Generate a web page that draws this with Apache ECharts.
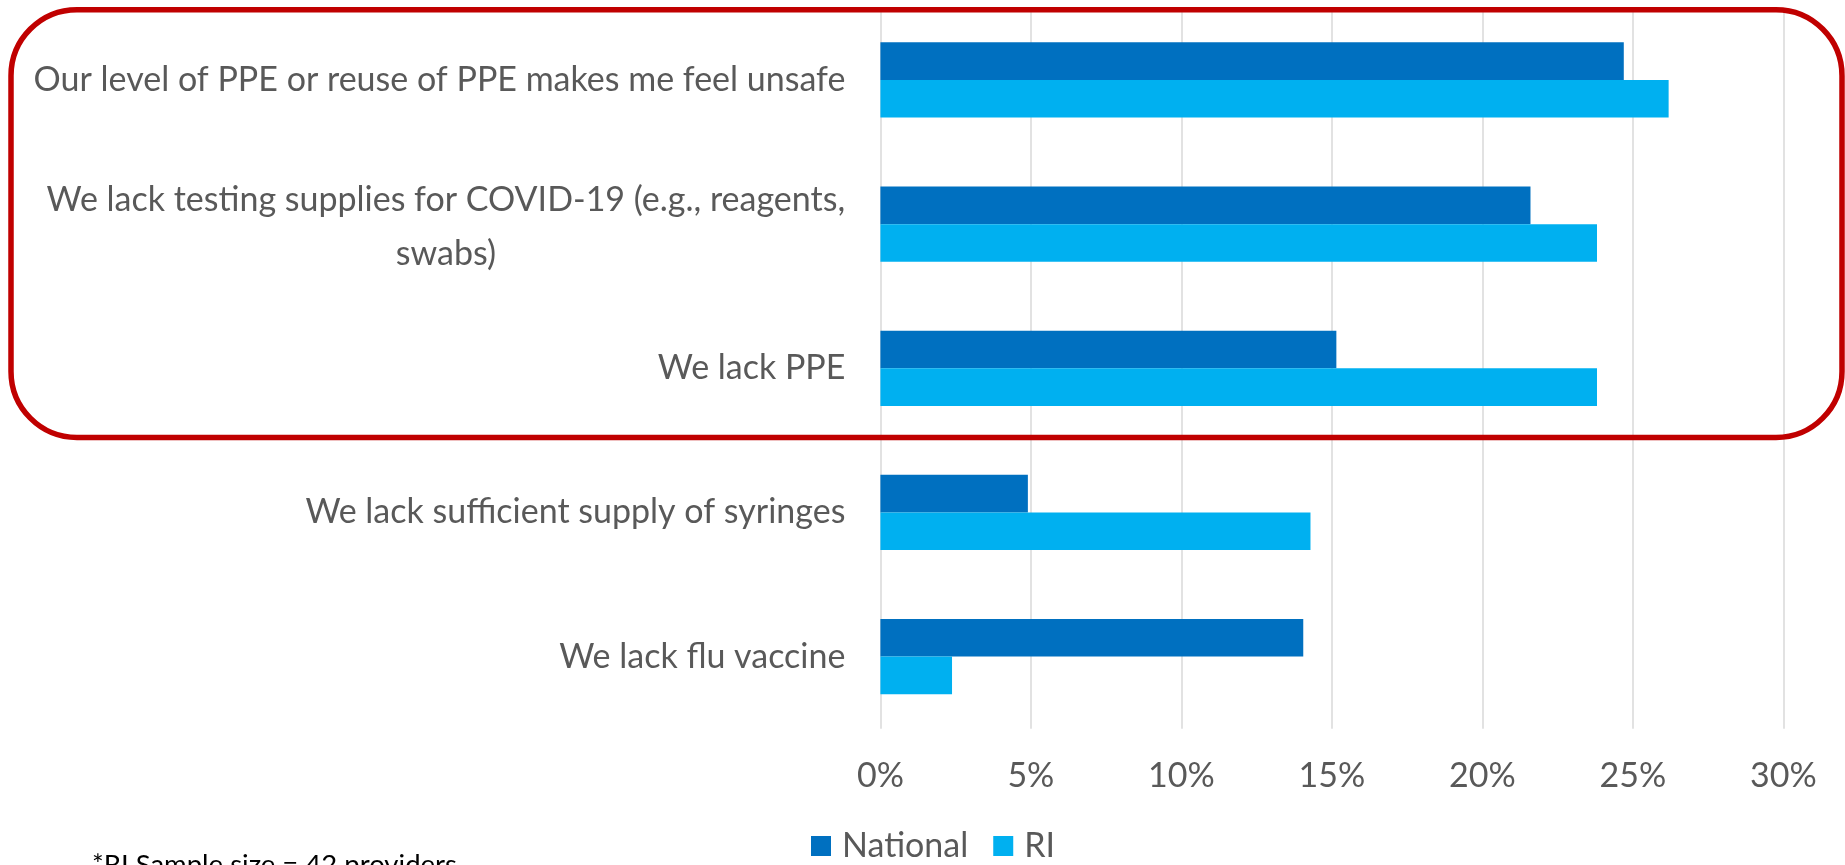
<!DOCTYPE html>
<html>
<head>
<meta charset="utf-8">
<script src="https://cdn.jsdelivr.net/npm/echarts@6/dist/echarts.min.js"></script>
<style>
  html, body { margin: 0; padding: 0; background: #fff; }
  #chart { width: 1845px; height: 865px; }
</style>
</head>
<body>
<div id="chart"></div>
<script>
// survey items, top to bottom
const categories = [
  'Our level of PPE or reuse of PPE makes me feel unsafe',
  'We lack testing supplies for COVID-19 (e.g., reagents,\nswabs)',
  'We lack PPE',
  'We lack sufficient supply of syringes',
  'We lack flu vaccine'
]
const national = [24.7, 21.6, 15.15, 4.9, 14.05]
const ri = [26.19, 23.81, 23.81, 14.29, 2.38]
const tickValues = [0, 5, 10, 15, 20, 25, 30]
const footnote = '*RI Sample size = 42 providers'

const labelFont = 'Lato'
const labelSize = 34

// width of the longest line so wrapped labels can be centred within the block
let ctx = document.createElement('canvas').getContext('2d')
ctx.font = labelSize + 'px ' + labelFont
let blockWidth = Math.ceil(ctx.measureText('We lack testing supplies for COVID-19 (e.g., reagents,').width)

let chart = echarts.init(document.getElementById('chart'))
chart.setOption({
  animation: false,
  textStyle: { fontFamily: labelFont },
  title: {
    text: footnote,
    left: 92,
    top: 851,
    padding: 0,
    textStyle: { color: '#000', fontSize: 27.5, fontWeight: 'normal', fontFamily: labelFont }
  },
  legend: {
    data: ['National', 'RI'],
    left: 811,
    top: 829,
    padding: 0,
    itemWidth: 20,
    itemHeight: 20,
    itemGap: 25,
    icon: 'rect',
    textStyle: { color: '#595959', fontSize: labelSize, lineHeight: 34, padding: [0, 0, 0, 6] }
  },
  grid: { left: 880.4, right: 61.7, top: 7.9, bottom: 136.3 },
  xAxis: {
    type: 'value',
    min: 0,
    max: 30,
    interval: 5,
    axisLine: { show: false },
    axisTick: { show: false },
    splitLine: { lineStyle: { color: '#D9D9D9', width: 1.5 } },
    axisLabel: {
      color: '#595959',
      fontSize: labelSize,
      lineHeight: 34,
      margin: 30,
      formatter: v => tickValues.indexOf(v) >= 0 ? v + '%' : ''
    }
  },
  yAxis: {
    type: 'category',
    inverse: true,
    data: categories,
    axisLine: { show: false },
    axisTick: { show: false },
    axisLabel: {
      margin: 35,
      formatter: v => v.indexOf('\n') >= 0
        ? v.split('\n').map(s => '{c|' + s + '}').join('\n')
        : '{r|' + v + '}',
      rich: {
        c: { width: blockWidth, align: 'center', color: '#595959', fontSize: labelSize, lineHeight: 54, fontFamily: labelFont, padding: [6, 0, 0, 0] },
        r: { color: '#595959', fontSize: labelSize, fontFamily: labelFont }
      }
    }
  },
  series: [
    {
      name: 'National',
      type: 'bar',
      data: national,
      barGap: '0%',
      barCategoryGap: '47.8%',
      itemStyle: { color: '#0070C0' }
    },
    {
      name: 'RI',
      type: 'bar',
      data: ri,
      barGap: '0%',
      barCategoryGap: '47.8%',
      itemStyle: { color: '#00B0F0' }
    }
  ],
  graphic: [
    {
      type: 'rect',
      z: 100,
      shape: { x: 11, y: 9.7, width: 1831, height: 427.8, r: 66 },
      style: { fill: null, stroke: '#C00000', lineWidth: 5.5 }
    }
  ]
})
</script>
</body>
</html>
